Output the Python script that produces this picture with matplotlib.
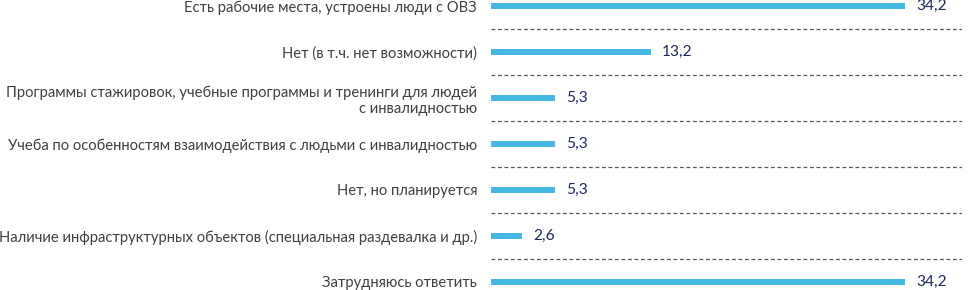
import matplotlib
matplotlib.use("Agg")
import matplotlib.pyplot as plt

categories = [
    "Есть рабочие места, устроены люди с ОВЗ",
    "Нет (в т.ч. нет возможности)",
    "Программы стажировок, учебные программы и тренинги для людей\nс инвалидностью",
    "Учеба по особенностям взаимодействия с людьми с инвалидностью",
    "Нет, но планируется",
    "Наличие инфраструктурных объектов (специальная раздевалка и др.)",
    "Затрудняюсь ответить",
]
values = [34.2, 13.2, 5.3, 5.3, 5.3, 2.6, 34.2]
value_labels = ["34,2", "13,2", "5,3", "5,3", "5,3", "2,6", "34,2"]

plt.rcParams['font.family'] = ['Lato', 'DejaVu Sans']

W, H = 969, 290
fig = plt.figure(figsize=(W / 100, H / 100), dpi=100)
left_px, right_px = 491, 962
ax = fig.add_axes([left_px / W, 0, (right_px - left_px) / W, 1])

row_px = 46
top_off = 6 / row_px
ax.set_ylim(H / row_px - top_off, -top_off)
ax.set_xlim(0, (right_px - left_px) / 12.1)

ys = list(range(len(categories)))
ax.barh(ys, values, height=0.15, color="#45B9E4")

for y, v, lab in zip(ys, values, value_labels):
    ax.annotate(lab, (v, y), xytext=(8, 0), textcoords="offset points",
                va="center", ha="left", fontsize=11.2, color="#1F2A5C")

for k in range(len(categories) - 1):
    ax.axhline(k + 0.5, xmin=0, xmax=1, color="#555555", lw=0.9,
               dashes=(3, 2.2))

ax.set_yticks(ys)
ax.set_yticklabels(categories, fontsize=10.6, color="#404040",
                   multialignment="right", linespacing=1.2)
ax.tick_params(axis="y", length=0, pad=10)
ax.set_xticks([])
for s in ax.spines.values():
    s.set_visible(False)

fig.savefig("out.png", dpi=100)
